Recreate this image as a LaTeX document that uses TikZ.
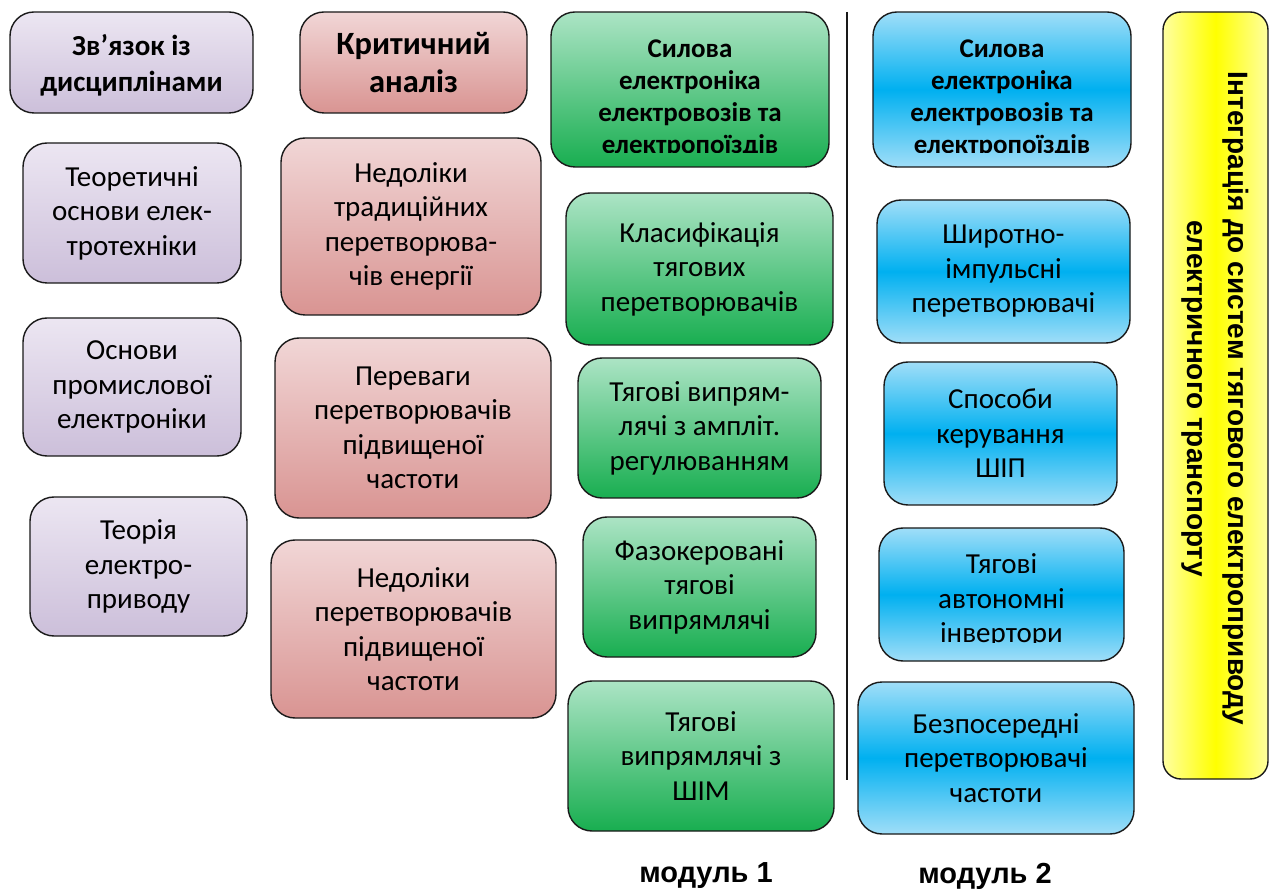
\documentclass[tikz,border=0pt]{standalone}
\usepackage{fontspec}
\setmainfont{Carlito}
\newfontfamily\arl{Liberation Sans}
\definecolor{pTop}{RGB}{236,230,242}
\definecolor{pBot}{RGB}{204,191,218}
\definecolor{rTop}{RGB}{241,214,214}
\definecolor{rBot}{RGB}{217,148,146}
\definecolor{gTop}{RGB}{172,228,197}
\definecolor{gBot}{RGB}{24,174,80}
\definecolor{bEdge}{RGB}{160,222,248}
\definecolor{bMid}{RGB}{0,176,240}
\definecolor{yEdge}{RGB}{255,255,160}
\definecolor{yMid}{RGB}{255,255,0}
\definecolor{edge}{RGB}{25,25,25}
\begin{document}
\begin{tikzpicture}[x=1pt,y=-1pt,
  box/.style={draw=edge, line width=1.4pt, rounded corners=24pt, align=center, inner sep=0pt},
  pbox/.style={box, top color=pTop, bottom color=pBot},
  rbox/.style={box, top color=rTop, bottom color=rBot},
  gbox/.style={box, top color=gTop, bottom color=gBot},
  bbox/.style={box, top color=bEdge, bottom color=bEdge, middle color=bMid},
  ybox/.style={box, left color=yEdge, right color=yEdge, middle color=yMid, rounded corners=18pt},
  body/.style={font=\fontsize{29}{34.5}\selectfont},
  head/.style={font=\fontsize{29}{36}\selectfont\bfseries},
  bighead/.style={font=\fontsize{32.5}{38}\selectfont\bfseries},
  shead/.style={font=\fontsize{27}{32}\selectfont\bfseries},
  modlab/.style={font=\arl\fontsize{29}{34}\selectfont\bfseries},
  vtext/.style={font=\arl\fontsize{28}{41}\selectfont\bfseries, align=center, rotate=-90}
]
\useasboundingbox (0,0) rectangle (1270,890);
% column 1
\node[pbox, head, minimum width=243pt, minimum height=101pt] (a1) at (131.5,62.5) {};
\node[head, align=center] (a1t) at ([yshift=-3pt]a1.center) {Зв\char"27 язок із\\дисциплінами};
\node[pbox, body, minimum width=218pt, minimum height=140pt] (a2) at (132,213) {Теоретичні\\основи елек-\\тротехніки};
\node[pbox, body, minimum width=218pt, minimum height=138pt] (a3) at (132,387) {Основи\\промислової\\електроніки};
\node[pbox, body, minimum width=217pt, minimum height=139pt] (a4) at (138.5,566.5) {Теорія\\електро-\\приводу};
% column 2
\node[rbox, bighead, minimum width=227pt, minimum height=101pt] (b1) at (413.5,62.5) {Критичний\\аналіз};
\node[rbox, body, minimum width=260pt, minimum height=177pt] (b2) at (411,226.5) {Недоліки\\традиційних\\перетворюва-\\чів енергії};
\node[rbox, body, minimum width=276pt, minimum height=180pt] (b3) at (413,428) {Переваги\\перетворювачів\\підвищеної\\частоти};
\node[rbox, body, minimum width=285pt, minimum height=178pt] (b4) at (413.5,629) {Недоліки\\перетворювачів\\підвищеної\\частоти};
% column 3
\node[gbox, minimum width=278pt, minimum height=155pt] (c1) at (690,89.5) {};
\begin{scope}
\clip (551,12) rectangle (829,153);
\node[shead, align=center] (c1t) at ([yshift=-9pt]c1.center) {Силова\\електроніка\\електровозів та\\електропоїздів};
\end{scope}
\node[gbox, body, minimum width=267pt, minimum height=152pt] (c2) at (699.5,269) {Класифікація\\тягових\\перетворювачів};
\node[gbox, body, minimum width=243pt, minimum height=140pt] (c3) at (699.5,428) {Тягові випрям-\\лячі з ампліт.\\регулюванням};
\node[gbox, body, minimum width=233pt, minimum height=140pt] (c4) at (699.5,587) {Фазокеровані\\тягові\\випрямлячі};
\node[gbox, body, minimum width=266pt, minimum height=150pt] (c5) at (701,756) {Тягові\\випрямлячі з\\ШІМ};
% separator
\coordinate (sepTop) at (847,12);
\coordinate (sepBot) at (847,780);
\draw[line width=2pt, edge] (sepTop) -- (sepBot);
% column 4
\node[bbox, minimum width=258pt, minimum height=155pt] (d1) at (1002,89.5) {};
\begin{scope}
\clip (873,12) rectangle (1131,153);
\node[shead, align=center] (d1t) at ([yshift=-9pt]d1.center) {Силова\\електроніка\\електровозів та\\електропоїздів};
\end{scope}
\node[bbox, body, minimum width=253pt, minimum height=143pt] (d2) at (1003.5,271.5) {Широтно-\\імпульсні\\перетворювачі};
\node[bbox, body, minimum width=233pt, minimum height=143pt] (d3) at (1000.5,433.5) {Способи\\керування\\ШІП};
\node[bbox, minimum width=245pt, minimum height=133pt] (d4) at (1001.5,594.5) {};
\begin{scope}
\clip (879,528) rectangle (1124,642);
\node[body, align=center] (d4t) at ([yshift=-6pt]d4.center) {Тягові\\автономні\\інвертори};
\end{scope}
\node[bbox, body, minimum width=276pt, minimum height=152pt] (d5) at (996,758) {Безпосередні\\перетворювачі\\частоти};
% yellow bar
\node[ybox, minimum width=105pt, minimum height=767pt] (y) at (1215.5,395.5) {};
\node[vtext] (yt) at ([yshift=-3pt]y.center) {Інтеграція до систем тягового електроприводу\\електричного транспорту};
% module labels
\node[modlab] (m1) at (706,876) {модуль 1};
\node[modlab] (m2) at (985,876) {модуль 2};
\end{tikzpicture}
\end{document}
